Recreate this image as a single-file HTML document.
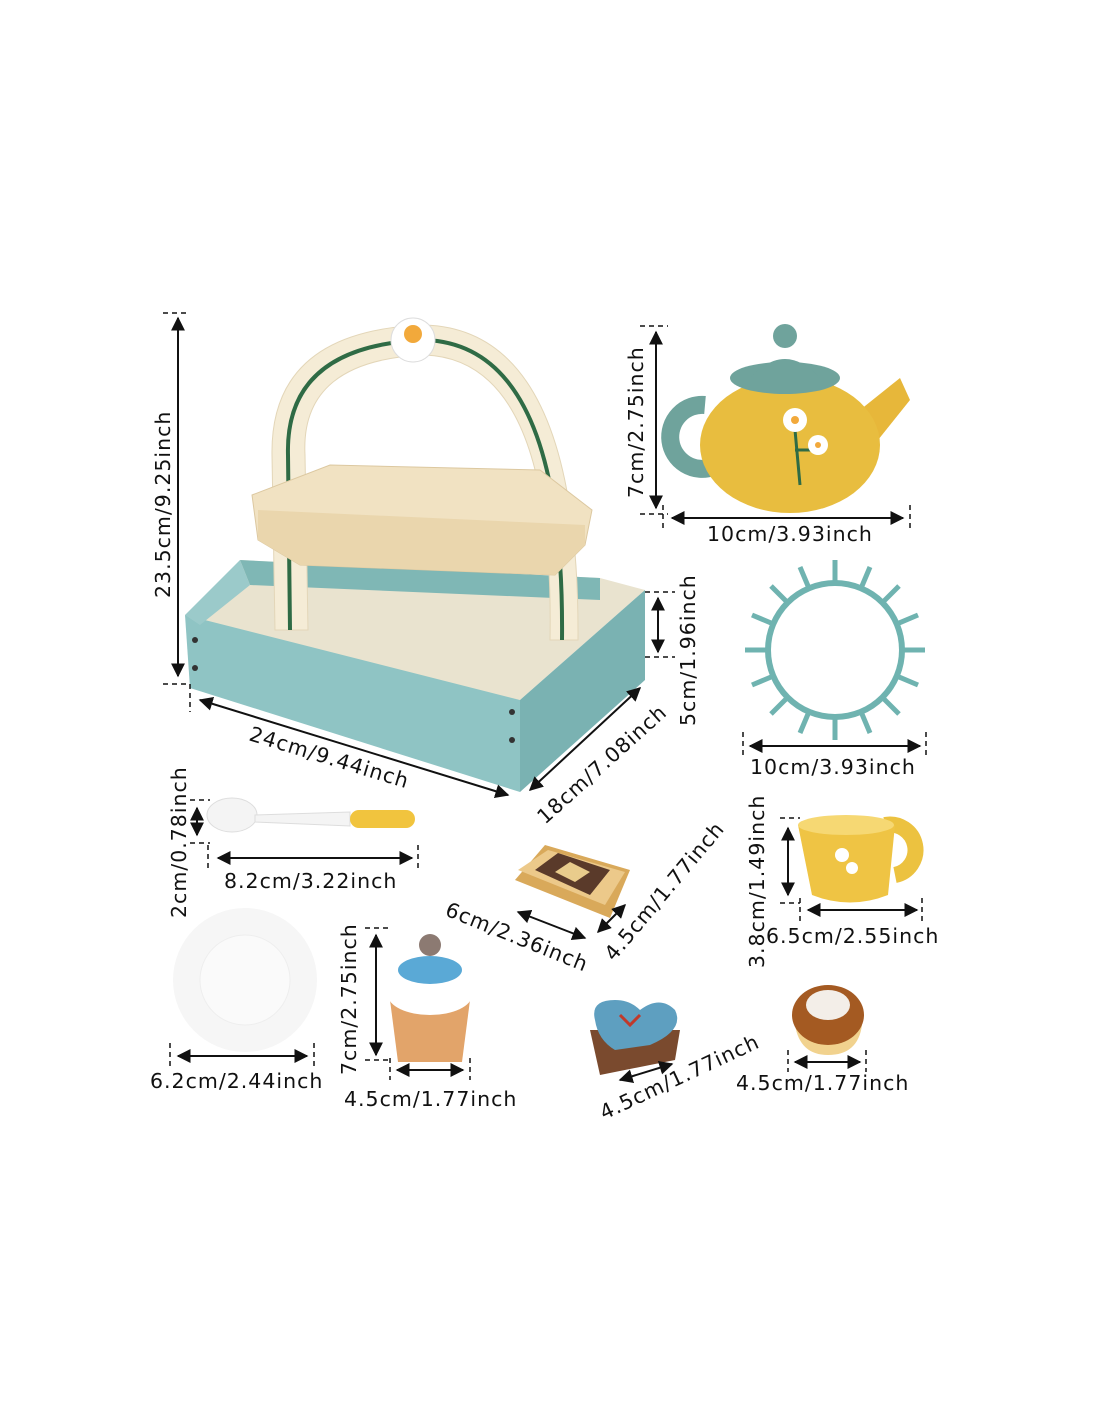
<!DOCTYPE html>
<html><head><meta charset="utf-8"><style>
html,body{margin:0;padding:0;background:#fff;}
svg{display:block}
text{font-family:"DejaVu Sans","Liberation Sans",sans-serif;font-size:20.5px;fill:#111;letter-spacing:1px}
</style></head><body>
<svg width="1100" height="1422" viewBox="0 0 1100 1422" xmlns="http://www.w3.org/2000/svg">
<defs>
<marker id="a" viewBox="0 0 10 10" refX="9" refY="5" markerWidth="7" markerHeight="7" orient="auto-start-reverse"><path d="M0,0 L10,5 L0,10 z" fill="#111"/></marker>
</defs>
<rect width="1100" height="1422" fill="#fff"/>

<polygon points="240,560 600,578 645,590 520,700 190,630" fill="#e9e3cf"/>
<polygon points="240,560 600,578 600,600 250,585" fill="#7fb7b5"/>
<path d="M275,630 L272,455 Q270,330 425,325 Q580,330 578,640 L550,640 Q555,360 425,355 Q300,360 305,455 L308,630 Z" fill="#f5ecd6" stroke="#e3d6b8"/>
<path d="M290,630 L288,455 Q285,345 425,340 Q565,345 562,640" fill="none" stroke="#2f6b45" stroke-width="4"/>
<circle cx="413" cy="340" r="22" fill="#fff" stroke="#ddd"/><circle cx="413" cy="334" r="9" fill="#f2a93b"/>
<polygon points="185,615 520,700 520,792 190,688" fill="#8fc4c4"/>
<polygon points="520,700 645,590 645,680 520,792" fill="#7ab2b2"/>
<polygon points="185,615 240,560 250,585 200,625" fill="#9bcaca"/>
<circle cx="195" cy="640" r="3" fill="#333"/><circle cx="195" cy="668" r="3" fill="#333"/>
<circle cx="512" cy="712" r="3" fill="#333"/><circle cx="512" cy="740" r="3" fill="#333"/>
<polygon points="252,495 330,465 540,470 592,510 585,545 555,575 300,565 258,540" fill="#f1e2c2" stroke="#dcc8a0"/>
<polygon points="258,510 585,525 585,545 555,575 300,565 258,540" fill="#ead6ad"/>

<path d="M705,405 a32,32 0 1,0 8,62" fill="none" stroke="#6fa39c" stroke-width="18"/>
<path d="M860,410 L900,378 L910,400 L878,440 Z" fill="#e7b73a"/>
<ellipse cx="790" cy="445" rx="90" ry="68" fill="#e8bd3f"/>
<ellipse cx="785" cy="378" rx="55" ry="16" fill="#6fa39c"/>
<path d="M750,378 Q785,340 820,378 Z" fill="#6fa39c"/>
<circle cx="785" cy="336" r="12" fill="#6fa39c"/>
<path d="M800,485 L795,430 M795,450 L820,450" stroke="#2f6b45" stroke-width="3"/>
<circle cx="795" cy="420" r="12" fill="#fff"/><circle cx="795" cy="420" r="4" fill="#f2a93b"/>
<circle cx="818" cy="445" r="10" fill="#fff"/><circle cx="818" cy="445" r="3" fill="#f2a93b"/>

<g stroke="#6fb3b0" stroke-width="5">
<line x1="835" y1="560" x2="835" y2="740"/><line x1="745" y1="650" x2="925" y2="650"/>
<line x1="771" y1="586" x2="899" y2="714"/><line x1="771" y1="714" x2="899" y2="586"/>
<line x1="800" y1="567" x2="870" y2="733"/><line x1="870" y1="567" x2="800" y2="733"/>
<line x1="752" y1="615" x2="918" y2="685"/><line x1="752" y1="685" x2="918" y2="615"/>
</g>
<circle cx="835" cy="650" r="70" fill="#6fb3b0"/>
<circle cx="835" cy="650" r="64" fill="#fff"/>

<ellipse cx="232" cy="815" rx="25" ry="17" fill="#f4f4f4" stroke="#ddd"/>
<path d="M255,815 L350,812 L350,826 L255,822 Z" fill="#f4f4f4" stroke="#ddd"/>
<rect x="350" y="810" width="65" height="18" rx="9" fill="#f1c43e"/>

<path d="M885,825 a25,25 0 1,1 10,50" fill="none" stroke="#ecc240" stroke-width="16"/>
<path d="M798,825 L895,825 L888,895 Q850,910 812,895 Z" fill="#efc444"/>
<ellipse cx="846" cy="825" rx="48" ry="10" fill="#f6d873"/>
<circle cx="842" cy="855" r="7" fill="#fff"/><circle cx="852" cy="868" r="6" fill="#fff"/>

<polygon points="515,880 545,845 630,870 610,918" fill="#d9a95a"/>
<polygon points="518,870 548,850 625,872 605,905" fill="#ecc98a"/>
<polygon points="535,870 558,853 610,870 590,895" fill="#5a3a2a"/>
<polygon points="555,872 570,862 590,872 575,882" fill="#e9cc8c"/>

<circle cx="245" cy="980" r="72" fill="#f6f6f6"/>
<circle cx="245" cy="980" r="45" fill="#fafafa" stroke="#eee"/>

<path d="M390,1000 L470,1000 L462,1062 L398,1062 Z" fill="#e2a46a"/>
<ellipse cx="430" cy="995" rx="42" ry="20" fill="#fff"/>
<ellipse cx="430" cy="970" rx="32" ry="14" fill="#5aa9d6"/>
<circle cx="430" cy="945" r="11" fill="#8c7a72"/>

<path d="M590,1030 L600,1075 L675,1060 L680,1030 Z" fill="#7a4a2e"/>
<path d="M595,1020 Q590,1000 615,1000 Q630,1000 640,1010 Q660,995 675,1010 Q685,1030 650,1045 L615,1050 Q598,1040 595,1020 Z" fill="#5e9fc0"/>
<path d="M620,1015 l10,10 l10,-10" stroke="#c0392b" stroke-width="3" fill="none"/>

<path d="M795,1025 Q800,1055 828,1055 Q858,1055 862,1025 Z" fill="#f1d28e"/>
<ellipse cx="828" cy="1015" rx="36" ry="30" fill="#a45a22"/>
<ellipse cx="828" cy="1005" rx="22" ry="15" fill="#f3eee8"/>

<g stroke="#111" stroke-width="2" fill="none">
<line x1="178" y1="318" x2="178" y2="676" marker-start="url(#a)" marker-end="url(#a)"/>
<line x1="200" y1="700" x2="508" y2="795" marker-start="url(#a)" marker-end="url(#a)"/>
<line x1="530" y1="790" x2="640" y2="688" marker-start="url(#a)" marker-end="url(#a)"/>
<line x1="658" y1="598" x2="658" y2="652" marker-start="url(#a)" marker-end="url(#a)"/>
<line x1="656" y1="332" x2="656" y2="508" marker-start="url(#a)" marker-end="url(#a)"/>
<line x1="672" y1="518" x2="903" y2="518" marker-start="url(#a)" marker-end="url(#a)"/>
<line x1="750" y1="746" x2="920" y2="746" marker-start="url(#a)" marker-end="url(#a)"/>
<line x1="197" y1="808" x2="197" y2="835" marker-start="url(#a)" marker-end="url(#a)"/>
<line x1="218" y1="858" x2="412" y2="858" marker-start="url(#a)" marker-end="url(#a)"/>
<line x1="788" y1="828" x2="788" y2="895" marker-start="url(#a)" marker-end="url(#a)"/>
<line x1="808" y1="910" x2="917" y2="910" marker-start="url(#a)" marker-end="url(#a)"/>
<line x1="518" y1="912" x2="585" y2="938" marker-start="url(#a)" marker-end="url(#a)"/>
<line x1="598" y1="932" x2="625" y2="905" marker-start="url(#a)" marker-end="url(#a)"/>
<line x1="178" y1="1056" x2="307" y2="1056" marker-start="url(#a)" marker-end="url(#a)"/>
<line x1="376" y1="935" x2="376" y2="1055" marker-start="url(#a)" marker-end="url(#a)"/>
<line x1="397" y1="1070" x2="463" y2="1070" marker-start="url(#a)" marker-end="url(#a)"/>
<line x1="620" y1="1080" x2="672" y2="1064" marker-start="url(#a)" marker-end="url(#a)"/>
<line x1="795" y1="1062" x2="860" y2="1062" marker-start="url(#a)" marker-end="url(#a)"/>
</g>
<g stroke="#111" stroke-width="1.5" stroke-dasharray="5,4">
<line x1="163" y1="313" x2="190" y2="313"/><line x1="163" y1="684" x2="190" y2="684"/><line x1="190" y1="684" x2="190" y2="712"/>
<line x1="645" y1="592" x2="675" y2="592"/><line x1="645" y1="657" x2="675" y2="657"/>
<line x1="640" y1="326" x2="668" y2="326"/><line x1="640" y1="514" x2="668" y2="514"/>
<line x1="663" y1="505" x2="663" y2="530"/><line x1="910" y1="505" x2="910" y2="530"/>
<line x1="743" y1="732" x2="743" y2="758"/><line x1="926" y1="732" x2="926" y2="758"/>
<line x1="190" y1="800" x2="210" y2="800"/><line x1="190" y1="843" x2="210" y2="843"/>
<line x1="208" y1="845" x2="208" y2="870"/><line x1="418" y1="845" x2="418" y2="870"/>
<line x1="780" y1="818" x2="800" y2="818"/><line x1="780" y1="903" x2="800" y2="903"/>
<line x1="800" y1="898" x2="800" y2="922"/><line x1="922" y1="898" x2="922" y2="922"/>
<line x1="170" y1="1043" x2="170" y2="1068"/><line x1="314" y1="1043" x2="314" y2="1068"/>
<line x1="365" y1="928" x2="390" y2="928"/><line x1="365" y1="1060" x2="390" y2="1060"/>
<line x1="390" y1="1058" x2="390" y2="1080"/><line x1="470" y1="1058" x2="470" y2="1080"/>
<line x1="788" y1="1050" x2="788" y2="1072"/><line x1="866" y1="1050" x2="866" y2="1072"/>
</g>

<text transform="translate(170,598) rotate(-90)">23.5cm/9.25inch</text>
<text transform="translate(248,740) rotate(17)">24cm/9.44inch</text>
<text transform="translate(545,825) rotate(-42)">18cm/7.08inch</text>
<text transform="translate(695,726) rotate(-90)">5cm/1.96inch</text>
<text transform="translate(643,498) rotate(-90)">7cm/2.75inch</text>
<text x="707" y="541">10cm/3.93inch</text>
<text x="750" y="774">10cm/3.93inch</text>
<text transform="translate(186,918) rotate(-90)">2cm/0.78inch</text>
<text x="224" y="888">8.2cm/3.22inch</text>
<text transform="translate(764,968) rotate(-90)">3.8cm/1.49inch</text>
<text x="766" y="943">6.5cm/2.55inch</text>
<text transform="translate(444,915) rotate(22)">6cm/2.36inch</text>
<text transform="translate(614,962) rotate(-50)">4.5cm/1.77inch</text>
<text x="150" y="1088">6.2cm/2.44inch</text>
<text transform="translate(356,1075) rotate(-90)">7cm/2.75inch</text>
<text x="344" y="1106">4.5cm/1.77inch</text>
<text transform="translate(604,1120) rotate(-25)">4.5cm/1.77inch</text>
<text x="736" y="1090">4.5cm/1.77inch</text>
</svg>
</body></html>
